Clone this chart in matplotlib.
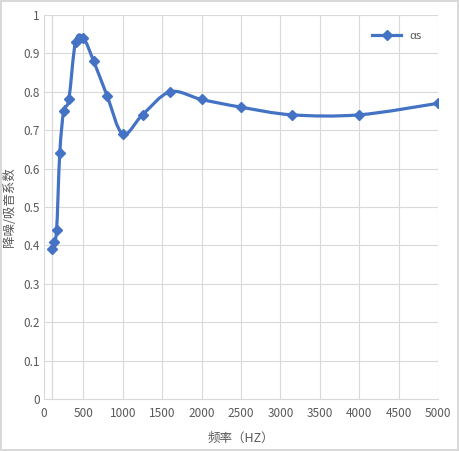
import matplotlib

matplotlib.use("Agg")  # Render without a display
import matplotlib.pyplot as plt
from matplotlib.path import Path
from matplotlib.patches import PathPatch
from matplotlib.lines import Line2D

plt.rcParams["font.family"] = ["Noto Sans CJK SC", "DejaVu Sans"]

# One third octave bands and the measured coefficient at each
FREQS = [100, 125, 160, 200, 250, 315, 400, 500, 630, 800, 1000, 1250, 1600, 2000, 2500, 3150, 4000, 5000]
ALPHA = [0.39, 0.41, 0.44, 0.64, 0.75, 0.78, 0.93, 0.94, 0.88, 0.79, 0.69, 0.74, 0.80, 0.78, 0.76, 0.74, 0.74, 0.77]
X_TICKS = [0, 500, 1000, 1500, 2000, 2500, 3000, 3500, 4000, 4500, 5000]
Y_TICKS = [0, 0.1, 0.2, 0.3, 0.4, 0.5, 0.6, 0.7, 0.8, 0.9, 1]
Y_LABELS = ["0", "0.1", "0.2", "0.3", "0.4", "0.5", "0.6", "0.7", "0.8", "0.9", "1"]
SERIES = "αs"

BLUE = "#4472C4"
GRID = "#D9D9D9"
TEXT = "#595959"


def smooth_path(xs, ys):
    """Office style smoothed line, one cubic bezier per segment"""
    pts = list(zip(xs, ys))
    ext = [pts[0]] + pts + [pts[-1]]
    verts = [pts[0]]
    codes = [Path.MOVETO]
    for i in range(1, len(ext) - 2):
        p0, p1, p2, p3 = ext[i - 1], ext[i], ext[i + 1], ext[i + 2]
        c1 = (p1[0] + (p2[0] - p0[0]) / 6, p1[1] + (p2[1] - p0[1]) / 6)
        c2 = (p2[0] - (p3[0] - p1[0]) / 6, p2[1] - (p3[1] - p1[1]) / 6)
        verts += [c1, c2, p2]
        codes += [Path.CURVE4] * 3
    return Path(verts, codes)


fig = plt.figure(figsize=(4.59, 4.51), dpi=100)
fig.patch.set_edgecolor(GRID)
fig.patch.set_linewidth(1.5)
ax = fig.add_axes([44 / 459, 52 / 451, 394 / 459, 384 / 451])

ax.set_xlim(0, 5000)
ax.set_ylim(0, 1)
ax.set_xticks(X_TICKS)
ax.set_yticks(Y_TICKS)
ax.set_yticklabels(Y_LABELS)
ax.grid(True, color=GRID, linewidth=0.8)
ax.axvline(FREQS[0], color=GRID, linewidth=0.9, zorder=1)
ax.set_axisbelow(True)
for side, spine in ax.spines.items():
    spine.set_visible(side == "bottom")
    spine.set_color(GRID)
ax.tick_params(length=0, colors=TEXT, labelsize=8.5)
ax.tick_params(axis="y", pad=3)
ax.tick_params(axis="x", pad=6)

ax.add_patch(PathPatch(smooth_path(FREQS, ALPHA), facecolor="none", edgecolor=BLUE, linewidth=2.3, zorder=3))
ax.plot(FREQS, ALPHA, linestyle="none", marker="D", markersize=5.5, color=BLUE, zorder=4)

handle = Line2D([], [], color=BLUE, linewidth=2.3, marker="D", markersize=5)
ax.legend([handle], [SERIES], loc="upper right", bbox_to_anchor=(0.985, 0.985), frameon=False,
          fontsize=8, labelcolor=TEXT, handlelength=2.6)

ax.set_xlabel("频率（HZ）", color=TEXT, fontsize=9, labelpad=8)
ax.set_ylabel("降噪/吸音系数", color=TEXT, fontsize=9)
ax.yaxis.set_label_coords(-0.07, 0.5)

fig.savefig("out.png", dpi=100)
